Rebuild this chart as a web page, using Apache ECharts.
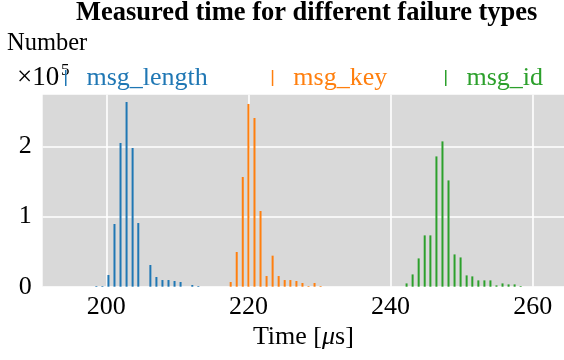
<!DOCTYPE html>
<html>
<head>
<meta charset="utf-8">
<script src="https://cdn.jsdelivr.net/npm/echarts@6/dist/echarts.min.js"></script>
<style>
	html, body { margin:0; padding:0; background:#fff; }
	#failureContainer { width:564px; height:360px; }
</style>
</head>
<body>
<div id="failureContainer"></div>

<script>
// histogram bins (time in us) and counts (x 1e5)
var lengthX = [198.6, 199.45, 200.3, 201.15, 202.0, 202.85, 203.7, 204.5, 206.2, 207.05, 207.9, 208.75, 209.6, 210.45, 212.1, 212.95];
var lengthY = [0.01, 0.01, 0.167, 0.893, 2.047, 2.631, 1.976, 0.907, 0.309, 0.138, 0.095, 0.095, 0.081, 0.067, 0.024, 0.01];

var keyX = [217.5, 218.35, 219.2, 220.0, 220.85, 221.7, 222.55, 223.4, 224.25, 225.1, 225.9, 226.75, 227.6, 228.45, 229.3, 230.15];
var keyY = [0.067, 0.494, 1.563, 2.603, 2.403, 1.078, 0.152, 0.442, 0.152, 0.095, 0.095, 0.081, 0.053, 0.01, 0.053, 0.01];

var idX = [242.25, 243.1, 243.95, 244.8, 245.6, 246.45, 247.3, 248.15, 249.0, 249.85, 250.7, 251.5, 252.35, 253.2, 254.05, 254.9, 255.75, 256.6, 257.45, 258.3];
var idY = [0.047, 0.175, 0.403, 0.731, 0.731, 1.856, 2.07, 1.514, 0.46, 0.417, 0.161, 0.147, 0.09, 0.09, 0.09, 0.019, 0.047, 0.033, 0.033, 0.01];

var seriesNames = ['msg_length', 'msg_key', 'msg_id'];
var xTicks = [200, 220, 240, 260];
var yTicks = [0, 1, 2];

var serif = '"Liberation Serif", "Times New Roman", serif';
var colors = ['#1f77b4', '#ff7f0e', '#2ca02c'];

function pairs(X, Y){
	var res = [];
	for(var i = 0; i < X.length; i++){
		res.push([X[i], Y[i]]);
	}
	return res;
}

function makeLegend(name, left){
	return {
		data : [name],
		left : left,
		top : 65,
		padding : 0,
		icon : 'rect',
		itemWidth : 1.5,
		itemHeight : 16,
		textStyle : {
			fontFamily : serif,
			fontSize : 26,
			lineHeight : 16,
			color : 'inherit',
			padding : [0, 0, 0, 15]
		}
	};
}

function makeSeries(idx, X, Y){
	return {
		type : 'bar',
		name : seriesNames[idx],
		data : pairs(X, Y),
		barWidth : 2,
		barGap : '-100%',
		itemStyle : { color : colors[idx] },
		emphasis : { disabled : true }
	};
}

var myChart = echarts.init(document.getElementById('failureContainer'), null, {renderer : 'canvas'});
var option = {
	animation : false,
	color : colors,
	title : {
		text : 'Measured time for different failure types',
		left : 76,
		top : 0,
		padding : 0,
		textStyle : {
			fontFamily : serif,
			fontWeight : 'bold',
			fontSize : 26.5,
			color : '#000'
		}
	},
	legend : [
		makeLegend('msg_length', 65),
		makeLegend('msg_key', 271.8),
		makeLegend('msg_id', 445)
	],
	graphic : [{
		type : 'text',
		left : 7,
		top : 31,
		style : { text : 'Number', fontFamily : serif, fontSize : 24.5, fill : '#000' }
	},{
		type : 'text',
		left : 17,
		top : 64,
		style : { text : '×10', fontFamily : serif, fontSize : 27, fill : '#000' }
	},{
		type : 'text',
		left : 61,
		top : 62,
		style : { text : '5', fontFamily : serif, fontSize : 17, fill : '#000' }
	}],
	grid : {
		left : 42.7,
		right : 0,
		top : 94.7,
		bottom : 73.3,
		show : true,
		backgroundColor : '#d9d9d9',
		borderWidth : 0
	},
	xAxis : {
		type : 'value',
		min : 191.05,
		max : 264.4,
		name : '{n|Time [}{i|μ}{n|s]}',
		nameLocation : 'middle',
		nameGap : 27,
		nameTextStyle : {
			rich : {
				n : { fontFamily : serif, fontSize : 26, color : '#000' },
				i : { fontFamily : serif, fontSize : 26, fontStyle : 'italic', color : '#000' }
			}
		},
		axisLine : { show : false },
		axisTick : { show : false, customValues : xTicks },
		axisLabel : {
			customValues : xTicks,
			margin : 7,
			fontFamily : serif,
			fontSize : 26,
			color : '#000'
		},
		splitLine : {
			show : true,
			lineStyle : { color : '#fff', width : 1.6 }
		}
	},
	yAxis : {
		type : 'value',
		min : 0,
		max : 2.735,
		axisLine : { show : false },
		axisTick : { show : false, customValues : yTicks },
		axisLabel : {
			customValues : yTicks,
			margin : 11,
			fontFamily : serif,
			fontSize : 26,
			color : '#000'
		},
		splitLine : {
			show : true,
			lineStyle : { color : '#fff', width : 1.6 }
		}
	},
	series : [
		makeSeries(0, lengthX, lengthY),
		makeSeries(1, keyX, keyY),
		makeSeries(2, idX, idY)
	]
};
myChart.setOption(option);
</script>
</body>
</html>
